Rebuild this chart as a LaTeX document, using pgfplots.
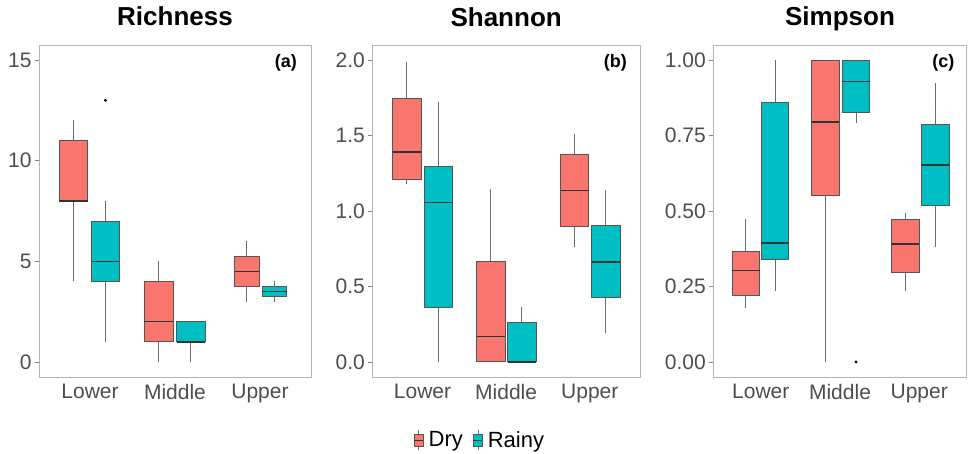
\documentclass[border=0pt]{standalone}
\usepackage{pgfplots}
\pgfplotsset{compat=1.18}
\usepgfplotslibrary{statistics}
\usepackage{fontspec}
\setmainfont{Liberation Sans}
\definecolor{dry}{HTML}{F8766D}
\definecolor{rainy}{HTML}{00BFC4}
\definecolor{boxline}{HTML}{555555}
\definecolor{medline}{HTML}{333333}
\definecolor{whisk}{HTML}{6E6E6E}
\definecolor{frame}{HTML}{B3B3B3}
\definecolor{ticktext}{HTML}{4D4D4D}
\pgfplotsset{
  panel/.style={
    scale only axis, height=332pt, xmin=0.4, xmax=3.6,
    xtick={1,2,3}, xticklabels={Lower,Middle,Upper},
    x tick style={draw=none},
    y tick style={draw=ticktext!70, line width=0.8pt},
    ytick pos=left, xtick pos=bottom,
    tick align=outside, major tick length=4pt,
    axis line style={draw=frame, line width=0.9pt},
    ticklabel style={font=\fontsize{21}{25}\selectfont, text=ticktext},
    /pgf/number format/assume math mode=true,
    title style={font=\fontsize{26}{30}\selectfont\bfseries, at={(0.5,1)}, anchor=base, yshift=13pt},
    boxplot/draw direction=y,
    boxplot/whisker extend=0,
    boxplot/every whisker/.style={draw=whisk, line width=0.8pt},
    boxplot/every median/.style={draw=medline, line width=1.6pt},
    boxplot/every box/.style={draw=boxline, line width=0.9pt},
  },
  bx/.style={forget plot, draw=boxline, mark=*, mark size=1.3pt, mark options={draw=black, fill=black}},
}
\newcommand{\lbl}[1]{\node[font=\fontsize{18}{21}\selectfont\bfseries] at (rel axis cs:0.908,0.945) {#1};}
\begin{document}
\begin{tikzpicture}
\path[use as bounding box] (0,0) rectangle (968pt,453pt);
% Richness
\begin{axis}[panel, at={(39pt,76pt)}, anchor=south west, width=272pt,
  ymin=-0.75, ymax=15.75, ytick={0,5,10,15}, title={Richness}]
\addplot[bx, fill=dry, boxplot prepared={lower whisker=4, lower quartile=8, median=8, upper quartile=11, upper whisker=12, draw position=0.806, box extend=0.333}] coordinates {};
\addplot[bx, fill=rainy, boxplot prepared={lower whisker=1, lower quartile=4, median=5, upper quartile=7, upper whisker=8, draw position=1.182, box extend=0.326}] coordinates {(0,13)};
\addplot[bx, fill=dry, boxplot prepared={lower whisker=0, lower quartile=1, median=2, upper quartile=4, upper whisker=5, draw position=1.808, box extend=0.337}] coordinates {};
\addplot[bx, fill=rainy, boxplot prepared={lower whisker=0, lower quartile=1, median=1, upper quartile=2, upper whisker=2, draw position=2.186, box extend=0.333}] coordinates {};
\addplot[bx, fill=dry, boxplot prepared={lower whisker=3, lower quartile=3.75, median=4.5, upper quartile=5.25, upper whisker=6, draw position=2.845, box extend=0.286}] coordinates {};
\addplot[bx, fill=rainy, boxplot prepared={lower whisker=3, lower quartile=3.25, median=3.5, upper quartile=3.75, upper whisker=4, draw position=3.173, box extend=0.282}] coordinates {};
\lbl{(a)}
\end{axis}
% Shannon
\begin{axis}[panel, at={(372.3pt,76pt)}, anchor=south west, width=267.7pt,
  ymin=-0.1, ymax=2.1, ytick={0,0.5,1,1.5,2}, title={Shannon},
  yticklabel style={/pgf/number format/.cd, fixed, fixed zerofill, precision=1},
  legend style={at={(0.402,-0.19)}, anchor=center, draw=none, fill=none, legend columns=-1,
    font=\fontsize{22}{26}\selectfont, /tikz/every even column/.append style={column sep=8pt},
    /tikz/every odd column/.append style={column sep=3pt}}]
\addplot[bx, fill=dry, boxplot prepared={lower whisker=1.177, lower quartile=1.21, median=1.39, upper quartile=1.745, upper whisker=1.989, draw position=0.813, box extend=0.338}] coordinates {};
\addplot[bx, fill=rainy, boxplot prepared={lower whisker=0, lower quartile=0.363, median=1.056, upper quartile=1.296, upper whisker=1.72, draw position=1.191, box extend=0.338}] coordinates {};
\addplot[bx, fill=dry, boxplot prepared={lower whisker=0, lower quartile=0, median=0.169, upper quartile=0.669, upper whisker=1.144, draw position=1.817, box extend=0.338}] coordinates {};
\addplot[bx, fill=rainy, boxplot prepared={lower whisker=0, lower quartile=0, median=0, upper quartile=0.262, upper whisker=0.363, draw position=2.188, box extend=0.338}] coordinates {};
\addplot[bx, fill=dry, boxplot prepared={lower whisker=0.763, lower quartile=0.895, median=1.137, upper quartile=1.377, upper whisker=1.509, draw position=2.820, box extend=0.338}] coordinates {};
\addplot[bx, fill=rainy, boxplot prepared={lower whisker=0.191, lower quartile=0.429, median=0.664, upper quartile=0.904, upper whisker=1.14, draw position=3.192, box extend=0.338}] coordinates {};
\lbl{(b)}
\addlegendimage{legend image code/.code={
  \draw[whisk, line width=0.6pt] (4.5pt,-10pt) -- (4.5pt,10pt);
  \draw[boxline, fill=dry, line width=0.6pt] (0pt,-6pt) rectangle (9pt,6pt);
  \draw[medline, line width=0.9pt] (0pt,0pt) -- (9pt,0pt);}}
\addlegendentry{Dry}
\addlegendimage{legend image code/.code={
  \draw[whisk, line width=0.6pt] (4.5pt,-10pt) -- (4.5pt,10pt);
  \draw[boxline, fill=rainy, line width=0.6pt] (0pt,-6pt) rectangle (9pt,6pt);
  \draw[medline, line width=0.9pt] (0pt,0pt) -- (9pt,0pt);}}
\addlegendentry{Rainy}
\end{axis}
% Simpson
\begin{axis}[panel, at={(713.3pt,76pt)}, anchor=south west, width=253.4pt,
  ymin=-0.05, ymax=1.05, ytick={0,0.25,0.5,0.75,1}, title={Simpson},
  yticklabel style={/pgf/number format/.cd, fixed, fixed zerofill, precision=2}]
\addplot[bx, fill=dry, boxplot prepared={lower whisker=0.18, lower quartile=0.219, median=0.3025, upper quartile=0.366, upper whisker=0.473, draw position=0.810, box extend=0.347}] coordinates {};
\addplot[bx, fill=rainy, boxplot prepared={lower whisker=0.2365, lower quartile=0.34, median=0.393, upper quartile=0.859, upper whisker=1.0, draw position=1.181, box extend=0.347}] coordinates {};
\addplot[bx, fill=dry, boxplot prepared={lower whisker=0, lower quartile=0.551, median=0.794, upper quartile=1.0, upper whisker=1.0, draw position=1.819, box extend=0.347}] coordinates {};
\addplot[bx, fill=rainy, boxplot prepared={lower whisker=0.792, lower quartile=0.828, median=0.9285, upper quartile=1.0, upper whisker=1.0, draw position=2.202, box extend=0.347}] coordinates {(0,0)};
\addplot[bx, fill=dry, boxplot prepared={lower whisker=0.2365, lower quartile=0.295, median=0.3905, upper quartile=0.473, upper whisker=0.494, draw position=2.827, box extend=0.347}] coordinates {};
\addplot[bx, fill=rainy, boxplot prepared={lower whisker=0.381, lower quartile=0.517, median=0.652, upper quartile=0.788, upper whisker=0.923, draw position=3.208, box extend=0.347}] coordinates {};
\lbl{(c)}
\end{axis}
\end{tikzpicture}
\end{document}
